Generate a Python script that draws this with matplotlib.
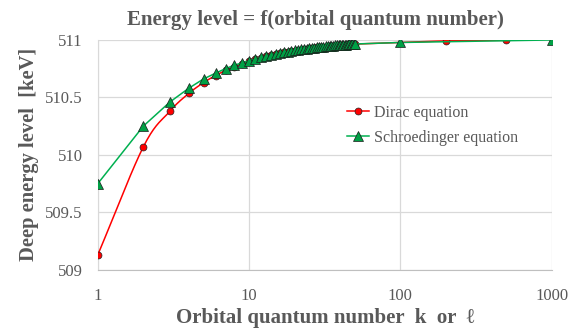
import numpy as np
import matplotlib.pyplot as plt
from matplotlib.ticker import FixedLocator, FixedFormatter, NullLocator

plt.rcParams['font.family'] = ['Liberation Serif', 'DejaVu Serif']

k_dirac = list(range(1, 51)) + [200, 500]
e_dirac = [509.130, 510.070, 510.380, 510.535, 510.628, 510.690, 510.734, 510.767, 510.793, 510.814,
           510.831, 510.845, 510.857, 510.867, 510.876, 510.884, 510.891, 510.897, 510.902, 510.907,
           510.911, 510.915, 510.919, 510.922, 510.926, 510.928, 510.931, 510.934, 510.936, 510.938,
           510.940, 510.942, 510.944, 510.945, 510.947, 510.948, 510.950, 510.951, 510.952, 510.954,
           510.955, 510.956, 510.957, 510.958, 510.959, 510.960, 510.960, 510.961, 510.962, 510.963,
           510.991, 510.996]
l_schr = list(range(1, 51)) + [100, 1000]
e_schr = [509.750, 510.250, 510.460, 510.580, 510.660, 510.710, 510.750, 510.780, 510.800, 510.818,
          510.834, 510.848, 510.859, 510.869, 510.878, 510.885, 510.892, 510.898, 510.903, 510.908,
          510.913, 510.917, 510.921, 510.924, 510.927, 510.930, 510.933, 510.935, 510.938, 510.940,
          510.942, 510.944, 510.946, 510.947, 510.949, 510.950, 510.952, 510.953, 510.954, 510.955,
          510.956, 510.957, 510.958, 510.959, 510.960, 510.961, 510.962, 510.963, 510.963, 510.964,
          510.977, 510.999]
x_ticks = [1, 10, 100, 1000]
y_ticks = [509, 509.5, 510, 510.5, 511]
y_labels = ['509', '509.5', '510', '510.5', '511']


def smooth(x, y, n=20):
    # excel-like smoothed line (catmull-rom in log-x space)
    lx = np.log10(np.asarray(x, float))
    y = np.asarray(y, float)
    px = np.concatenate([[2*lx[0]-lx[1]], lx, [2*lx[-1]-lx[-2]]])
    py = np.concatenate([[2*y[0]-y[1]], y, [2*y[-1]-y[-2]]])
    t = np.linspace(0, 1, n)[:-1]
    ox, oy = [], []
    for i in range(1, len(px)-2):
        for P, out in ((px, ox), (py, oy)):
            p0, p1, p2, p3 = P[i-1], P[i], P[i+1], P[i+2]
            out.extend(0.5*((2*p1) + (-p0+p2)*t + (2*p0-5*p1+4*p2-p3)*t**2 + (-p0+3*p1-3*p2+p3)*t**3))
    ox.append(lx[-1]); oy.append(y[-1])
    return 10**np.array(ox), np.array(oy)


fig = plt.figure(figsize=(5.82, 3.32), dpi=100)
ax = fig.add_axes([0.168, 0.187, 0.78, 0.693])

sx, sy = smooth(k_dirac, e_dirac)
ax.plot(sx, sy, c='#FF0000', lw=1.1, zorder=3)
ax.plot(k_dirac, e_dirac, ls='none', marker='o', ms=5, mfc='#FF0000', mec='#222222', mew=0.5, zorder=4)
ax.plot([], [], c='#FF0000', lw=1.1, marker='o', ms=5, mfc='#FF0000', mec='#222222', mew=0.5,
        label='Dirac equation')
ax.plot(l_schr, e_schr, c='#00B050', lw=1.1, marker='^', ms=7, mfc='#00A045', mec='#1a1a1a', mew=0.5,
        label='Schroedinger equation', zorder=5)

ax.set_xscale('log')
ax.set_xlim(1, 1000)
ax.set_ylim(509, 511)
ax.xaxis.set_major_locator(FixedLocator(x_ticks))
ax.xaxis.set_major_formatter(FixedFormatter([str(v) for v in x_ticks]))
ax.xaxis.set_minor_locator(NullLocator())
ax.set_yticks(y_ticks)
ax.set_yticklabels(y_labels)
ax.tick_params(length=0, labelsize=12, colors='#595959', pad=11)
ax.tick_params(axis='x', pad=13)
ax.grid(True, color='#d9d9d9', lw=0.9)
ax.set_axisbelow(True)
for s in ['top', 'right']:
    ax.spines[s].set_visible(False)
ax.spines['left'].set_color('#d9d9d9')
ax.spines['bottom'].set_color('#bfbfbf')

ax.set_title('Energy level = f(orbital quantum number)', fontsize=15, fontweight='bold', color='#595959',
             pad=11, x=0.48)
ax.set_xlabel('Orbital quantum number  k  or  \u2113', fontsize=15, fontweight='bold', color='#595959', labelpad=3)
ax.set_ylabel('Deep energy level  [keV]', fontsize=14.8, fontweight='bold', color='#595959', labelpad=4)

ax.legend(loc='upper left', bbox_to_anchor=(0.535, 0.745), frameon=False, fontsize=11.5,
          labelcolor='#595959', handlelength=1.35, handletextpad=0.35, borderaxespad=0, labelspacing=0.55)

fig.savefig('out.png', dpi=100)
